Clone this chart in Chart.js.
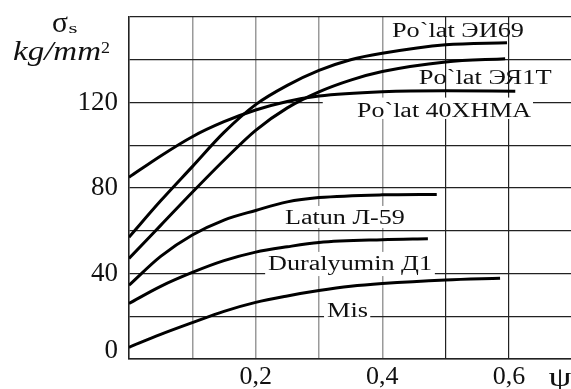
<!DOCTYPE html>
<html><head><meta charset="utf-8">
<script src="https://cdn.jsdelivr.net/npm/chart.js@4.4.0/dist/chart.umd.min.js"></script>
<style>html,body{margin:0;padding:0;background:#fff;}canvas{display:block;}</style>
</head><body>
<canvas id="c" width="571" height="389"></canvas>
<script>
// ---- ticks ----
const xTicks = [0, 0.1, 0.2, 0.3, 0.4, 0.5, 0.6];
const xLabelVals = [0.2, 0.4, 0.6];
const xLabelText = ['0,2', '0,4', '0,6'];
const yLabelVals = [0, 40, 80, 120];

// ---- series (psi, sigma_s kg/mm2) ----
const psiEI69   = [0, 0.05, 0.1, 0.15, 0.2, 0.25, 0.3, 0.35, 0.4, 0.5, 0.597];
const sigEI69   = [57, 74, 90, 106, 119, 128, 135, 140, 143, 147, 148];
const psiEYa1T  = [0, 0.05, 0.1, 0.15, 0.2, 0.25, 0.3, 0.35, 0.4, 0.5, 0.594];
const sigEYa1T  = [47, 62.5, 78, 93, 107, 117.5, 125, 130.5, 134.5, 139, 140.5];
const psi40XNMA = [0, 0.05, 0.1, 0.15, 0.2, 0.25, 0.3, 0.4, 0.5, 0.61];
const sig40XNMA = [85, 95, 104, 111, 116.5, 120.5, 123, 125, 125.5, 125.3];
const psiLatun  = [0, 0.05, 0.1, 0.15, 0.2, 0.25, 0.3, 0.4, 0.486];
const sigLatun  = [34.5, 48, 58, 65, 69.5, 73.5, 75.5, 76.8, 77];
const psiDural  = [0, 0.05, 0.1, 0.15, 0.2, 0.25, 0.3, 0.4, 0.472];
const sigDural  = [26, 34, 40.5, 46, 50, 52.5, 54.5, 55.8, 56.2];
const psiMis    = [0, 0.05, 0.1, 0.15, 0.2, 0.25, 0.3, 0.35, 0.4, 0.5, 0.586];
const sigMis    = [5.5, 11.5, 17, 22.3, 26.5, 29.5, 32, 34, 35.3, 37, 37.8];

const seriesNames = ['Po`lat ЭИ69', 'Po`lat ЭЯ1Т', 'Po`lat 40ХНМА', 'Latun Л-59', 'Duralyumin Д1', 'Mis'];
const seriesPsi = [psiEI69, psiEYa1T, psi40XNMA, psiLatun, psiDural, psiMis];
const seriesSig = [sigEI69, sigEYa1T, sig40XNMA, sigLatun, sigDural, sigMis];

// ---- annotation placement (data units) ----
const curveLabels = [
  {text: seriesNames[0], x: 0.5195, y: 150.8, w: 132},
  {text: seriesNames[1], x: 0.5625, y: 128.8, w: 133},
  {text: seriesNames[2], x: 0.4975, y: 113.2, w: 174},
  {text: seriesNames[3], x: 0.341,  y: 63.2,  w: 120},
  {text: seriesNames[4], x: 0.349,  y: 41.6,  w: 164},
  {text: seriesNames[5], x: 0.345,  y: 19.6,  w: 41}
];
const whiteBoxes = [
  {x0: 0.306, x1: 0.638, y0: 112.3, y1: 122.3},
  {x0: 0.243, x1: 0.441, y0: 61.3,  y1: 71.6},
  {x0: 0.215, x1: 0.483, y0: 38.8,  y1: 50.1},
  {x0: 0.308, x1: 0.381, y0: 17.8,  y1: 25.3}
];

const FONT = '"Liberation Serif", "Times New Roman", serif';

function drawStretched(ctx, text, cx, base, size, width, style, align) {
  ctx.save();
  ctx.font = (style || '') + ' ' + size + 'px ' + FONT;
  const m = ctx.measureText(text).width;
  const sx = width ? width / m : 1;
  ctx.translate(cx, base);
  ctx.scale(sx, 1);
  ctx.textAlign = align || 'center';
  ctx.textBaseline = 'alphabetic';
  ctx.fillStyle = '#111';
  ctx.fillText(text, 0, 0);
  ctx.restore();
}

const annot = {
  id: 'annot',
  beforeDatasetsDraw(chart) {
    const {ctx, scales: {x, y}} = chart;
    ctx.save();
    ctx.fillStyle = '#fff';
    for (const b of whiteBoxes) {
      const l = x.getPixelForValue(b.x0), r = x.getPixelForValue(b.x1);
      const t = y.getPixelForValue(b.y1), bt = y.getPixelForValue(b.y0);
      ctx.fillRect(l, t, r - l, bt - t);
    }
    ctx.restore();
  },
  afterDatasetsDraw(chart) {
    const {ctx, scales: {x, y}, chartArea: ca} = chart;
    for (const L of curveLabels) {
      drawStretched(ctx, L.text, x.getPixelForValue(L.x), y.getPixelForValue(L.y), 20, L.w);
    }
    // axis titles
    drawStretched(ctx, 'ψ', ca.right - 11, ca.bottom + 27, 27, 23);
    drawStretched(ctx, 'σ', ca.left - 69, ca.top + 15, 29, 16);
    drawStretched(ctx, 's', ca.left - 56, ca.top + 16, 15, 9);
    drawStretched(ctx, 'kg/mm', ca.left - 116, ca.top + 43, 27, 88, 'italic', 'left');
    drawStretched(ctx, '2', ca.left - 28, ca.top + 36, 16, 9, '', 'left');
  }
};

const datasets = seriesNames.map((n, i) => ({
  label: n,
  data: seriesPsi[i].map((p, j) => ({x: p, y: seriesSig[i][j]})),
  borderColor: '#000',
  borderWidth: 3,
  pointRadius: 0,
  fill: false,
  cubicInterpolationMode: 'monotone'
}));

const near = (a, b) => Math.abs(a - b) < 1e-6;

new Chart(document.getElementById('c'), {
  type: 'line',
  data: {datasets},
  plugins: [annot],
  options: {
    responsive: false,
    animation: false,
    layout: {padding: {top: 17, left: 0, right: 0, bottom: 0}},
    plugins: {legend: {display: false}, tooltip: {enabled: false}},
    scales: {
      x: {
        type: 'linear', min: 0, max: 0.698,
        afterBuildTicks: s => { s.ticks = xTicks.map(v => ({value: v})); },
        afterFit: s => { s.height = 30; },
        grid: {
          color: c => (c.tick && c.tick.value > 0.05 && c.tick.value < 0.45) ? '#9a9a9a' : '#222',
          lineWidth: c => (c.tick && c.tick.value > 0.05 && c.tick.value < 0.45) ? 1.5 : 1.2,
          drawTicks: false, tickLength: 0
        },
        border: {color: '#222', width: 1.5},
        ticks: {
          autoSkip: false, maxRotation: 0, padding: 3, color: '#111',
          font: {family: FONT, size: 26},
          callback: v => { const k = xLabelVals.findIndex(t => near(t, v)); return k >= 0 ? xLabelText[k] : ''; }
        }
      },
      y: {
        min: 0, max: 160,
        afterFit: s => { s.width = 129; },
        grid: {color: '#222', lineWidth: 1.2, drawTicks: false, tickLength: 0},
        border: {color: '#222', width: 1.5},
        ticks: {
          stepSize: 20, padding: 11, color: '#111',
          font: c => ({family: FONT, size: 27, lineHeight: (c.tick && c.tick.value === 0) ? '17px' : '10px'}),
          callback: v => v === 0 ? ['0', ''] : (yLabelVals.includes(v) ? String(v) : '')
        }
      }
    }
  }
});
</script>
</body></html>
